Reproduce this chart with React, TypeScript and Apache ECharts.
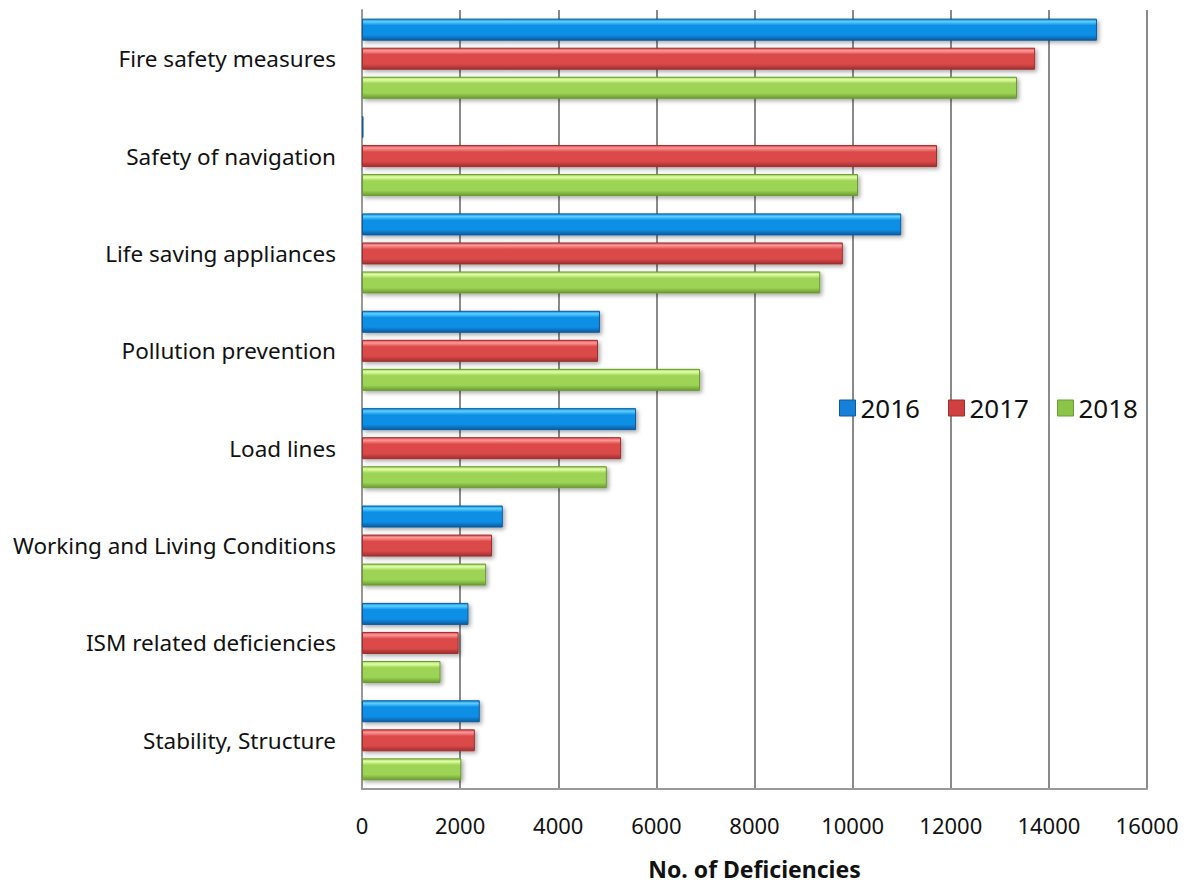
import React, { useEffect, useRef } from "react";
import * as echarts from "echarts";

const categories = [
  "Fire safety measures",
  "Safety of navigation",
  "Life saving appliances",
  "Pollution prevention",
  "Load lines",
  "Working and Living Conditions",
  "ISM related deficiencies",
  "Stability, Structure",
];
const seriesNames = ["2016", "2017", "2018"];
const values2016 = [14980, 30, 10990, 4850, 5585, 2870, 2170, 2400];
const values2017 = [13720, 11720, 9800, 4810, 5280, 2650, 1970, 2300];
const values2018 = [13350, 10110, 9340, 6890, 4990, 2530, 1600, 2025];
const xTicks = { min: 0, max: 16000, interval: 2000 };

const palettes = [
  { top: "#5fd0ff", mid: "#0b8fe6", bot: "#0a5a9e", icon: "#1580d8" },
  { top: "#ff9a9a", mid: "#dc4a4a", bot: "#9e2f2f", icon: "#d04040" },
  { top: "#e2ffa8", mid: "#9ed456", bot: "#6a9a32", icon: "#8cc44a" },
];

function grad(p: { top: string; mid: string; bot: string }) {
  return new echarts.graphic.LinearGradient(0, 0, 0, 1, [
    { offset: 0, color: p.mid },
    { offset: 0.12, color: p.top },
    { offset: 0.3, color: p.mid },
    { offset: 0.75, color: p.mid },
    { offset: 1, color: p.bot },
  ]);
}

export default function App() {
  const ref = useRef<HTMLDivElement>(null);
  useEffect(() => {
    if (!ref.current) return;
    const chart = echarts.init(ref.current, undefined, { renderer: "svg" });
    const font = "'Noto Sans', sans-serif";
    const data = [values2016, values2017, values2018];
    chart.setOption({
      animation: false,
      backgroundColor: "#ffffff",
      textStyle: { fontFamily: font },
      grid: { left: 362, right: 42, top: 10, bottom: 89, containLabel: false },
      legend: {
        left: 834,
        top: 390,
        itemWidth: 16,
        itemHeight: 16,
        itemGap: 28,
        icon: "rect",
        textStyle: { fontSize: 26, color: "#111", fontFamily: font },
        data: seriesNames.map((n, i) => ({
          name: n,
          itemStyle: { color: palettes[i].icon, borderColor: palettes[i].bot, borderWidth: 1 },
        })),
      },
      xAxis: {
        type: "value",
        min: xTicks.min,
        max: xTicks.max,
        interval: xTicks.interval,
        name: "No. of Deficiencies",
        nameLocation: "middle",
        nameGap: 68,
        nameTextStyle: { fontSize: 23, fontWeight: "bold", color: "#111", fontFamily: font },
        axisLine: { show: true, lineStyle: { color: "#999", width: 2 } },
        axisTick: { show: false },
        axisLabel: {
          fontSize: 22,
          color: "#111",
          margin: 25,
          fontFamily: font,
          formatter: (v: number) => String(v),
        },
        splitLine: { show: true, lineStyle: { color: "#8a8a8a", width: 2 } },
      },
      yAxis: {
        type: "category",
        data: categories,
        inverse: true,
        axisLine: { show: true, lineStyle: { color: "#999", width: 2 } },
        axisTick: { show: false },
        axisLabel: { fontSize: 22.5, color: "#111", margin: 26, fontFamily: font },
      },
      series: seriesNames.map((n, i) => ({
        name: n,
        type: "bar",
        data: data[i],
        barWidth: 22,
        barGap: "32%",
        itemStyle: {
          color: grad(palettes[i]),
          borderColor: palettes[i].bot,
          borderWidth: 1,
          shadowBlur: 4,
          shadowColor: "rgba(0,0,0,0.35)",
          shadowOffsetX: 2,
          shadowOffsetY: 2,
        },
      })),
    });
    return () => chart.dispose();
  }, []);
  return <div ref={ref} style={{ width: 1189, height: 885, position: "absolute", left: 0, top: 0 }} />;
}
